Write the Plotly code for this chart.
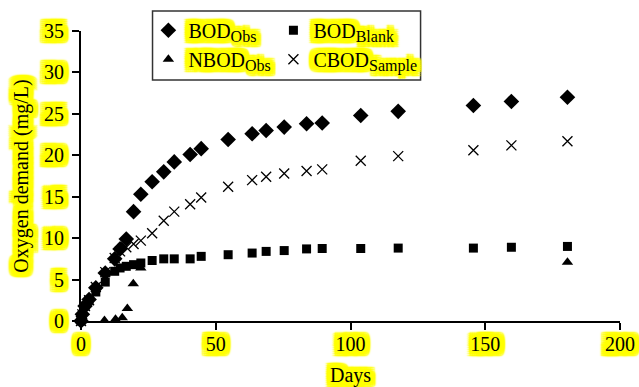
import plotly.graph_objects as go

# ---- data ----
days = [0, 0.5, 1.5, 3, 5.5, 9, 12.5, 14.5, 16.8, 19.5, 22.2, 26.4, 30.7, 34.6, 40.5,
        44.6, 54.6, 63.5, 68.7, 75.4, 83.7, 89.5, 103.8, 117.7, 145.6, 159.7, 180.5]
bod_obs = [0, 0.8, 1.8, 2.6, 4.0, 5.8, 7.5, 8.7, 9.9, 13.2, 15.3, 16.8, 18.0, 19.2, 20.1,
           20.8, 21.9, 22.6, 23.0, 23.4, 23.8, 23.9, 24.8, 25.3, 26.0, 26.5, 27.0]
bod_blank = [0, 0.8, 1.8, 2.5, 3.5, 4.7, 6.0, 6.4, 6.6, 6.8, 7.0, 7.3, 7.5, 7.5, 7.5,
             7.8, 8.0, 8.2, 8.4, 8.5, 8.7, 8.75, 8.75, 8.8, 8.8, 8.9, 9.0]
cbod_sample = [0, 0.8, 1.8, 2.5, 4.1, 5.9, 7.6, 8.4, 8.9, 9.3, 9.7, 10.6, 12.1, 13.2, 14.1,
               14.9, 16.2, 17.0, 17.4, 17.8, 18.1, 18.3, 19.35, 19.9, 20.6, 21.2, 21.7]
nbod_days = [0, 8.7, 12.8, 15.3, 17.2, 19.4, 22.2, 180.5]
nbod_obs = [0, 0.05, 0.2, 0.4, 1.5, 4.5, 6.4, 7.1]

x_ticks = [0, 50, 100, 150, 200]
y_ticks = [0, 5, 10, 15, 20, 25, 30, 35]

FONT = "Liberation Serif, Times New Roman, serif"
FS = 20
offs = [(dx, dy) for dx in (-5, -3, -1, 1, 3, 5) for dy in (-5, -3, -1, 1, 3, 5)]
HL = ", ".join(f"#ffff00 {dx}px {dy}px 1.5px" for dx, dy in offs)
offs_r = [(dx, dy) for dx in (0, 1, 3, 5) for dy in (-5, -3, -1, 1, 3, 5)]
HLR = ", ".join(f"#ffff00 {dx}px {dy}px 1.5px" for dx, dy in offs_r)


def hfont(size=FS):
    return dict(family=FONT, size=size, color="black", shadow=HL)


def lname(main, sub):
    return (f'<span style="text-shadow:{HL}">{main}</span>'
            f'<sub><span style="font-size:16px;text-shadow:{HLR}">{sub}</span></sub>')


fig = go.Figure()
fig.add_trace(go.Scatter(x=days, y=bod_obs, mode="markers", name=lname("BOD", "Obs"),
                         legend="legend",
                         marker=dict(symbol="diamond", size=12, color="black"), cliponaxis=False))
fig.add_trace(go.Scatter(x=days, y=bod_blank, mode="markers", name=lname("BOD", "Blank"),
                         legend="legend2",
                         marker=dict(symbol="square", size=9, color="black"), cliponaxis=False))
fig.add_trace(go.Scatter(x=nbod_days, y=nbod_obs, mode="markers", name=lname("NBOD", "Obs"),
                         legend="legend",
                         marker=dict(symbol="triangle-up", size=10, color="black"), cliponaxis=False))
fig.add_trace(go.Scatter(x=days, y=cbod_sample, mode="markers", name=lname("CBOD", "Sample"),
                         legend="legend2",
                         marker=dict(symbol="x-thin", size=10, color="black",
                                     line=dict(width=1.3, color="black")), cliponaxis=False))

leg_common = dict(orientation="v", xanchor="left", yanchor="top",
                  bgcolor="rgba(0,0,0,0)", borderwidth=0,
                  font=dict(family=FONT, size=FS, color="black"),
                  traceorder="normal", itemwidth=30)

fig.update_layout(
    width=639, height=387,
    margin=dict(l=81, r=19, t=31, b=66, autoexpand=False),
    paper_bgcolor="white", plot_bgcolor="white",
    font=dict(family=FONT, size=FS, color="black"),
    showlegend=True,
    legend=dict(x=0.125, y=1.07, **leg_common),
    legend2=dict(x=0.357, y=1.07, **leg_common),
    shapes=[dict(type="rect", xref="paper", yref="paper",
                 x0=0.1327, x1=0.63, y0=0.8314, y1=1.0688,
                 line=dict(color="#333333", width=1.5), fillcolor="white", layer="below")],
    xaxis=dict(
        range=[0, 200], tickvals=x_ticks, ticktext=[str(v) for v in x_ticks],
        showline=True, linecolor="black", linewidth=2, ticks="outside", ticklen=7,
        tickwidth=2, tickcolor="black", showgrid=False, zeroline=False,
        tickfont=hfont(), ticklabelstandoff=-3, automargin=False,
        title=dict(text="Days", font=hfont(), standoff=14),
    ),
    yaxis=dict(
        range=[0, 35], tickvals=y_ticks, ticktext=[str(v) for v in y_ticks],
        showline=True, linecolor="black", linewidth=2, ticks="outside", ticklen=7,
        tickwidth=2, tickcolor="black", showgrid=False, zeroline=False,
        tickfont=hfont(), ticklabelstandoff=4, automargin=False,
        title=dict(text="Oxygen demand (mg/L)", font=hfont(), standoff=10),
    ),
)

fig.write_html("out.html", post_script="document.body.style.margin='0';",
               config={"displayModeBar": False})
